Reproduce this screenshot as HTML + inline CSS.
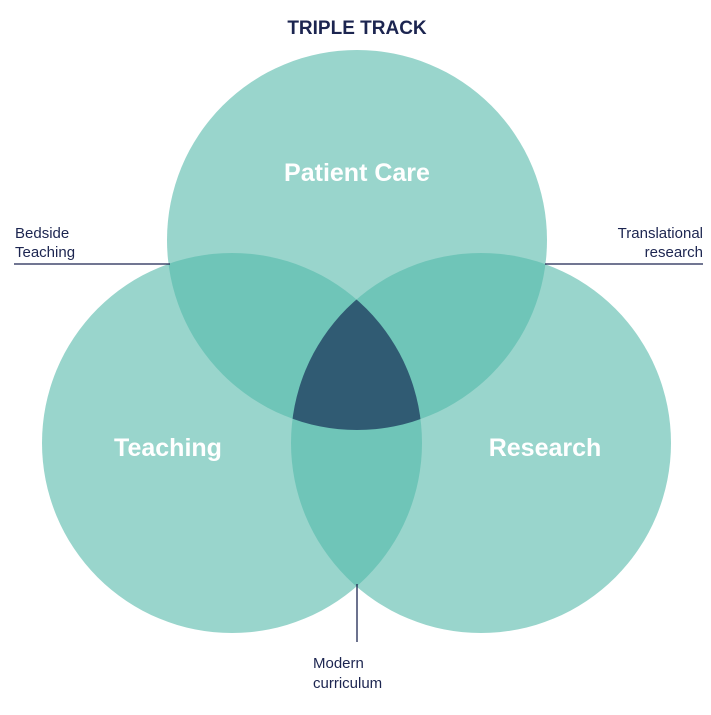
<!DOCTYPE html>
<html><head><style>
html,body{margin:0;padding:0;background:#fff;}
svg{display:block;}
</style></head><body>
<svg width="711" height="715" viewBox="0 0 711 715" xmlns="http://www.w3.org/2000/svg" font-family="Liberation Sans, sans-serif">
<defs>
<clipPath id="cT"><circle cx="357" cy="240" r="190"/></clipPath>
<clipPath id="cL"><circle cx="232" cy="443" r="190"/></clipPath>
<clipPath id="cR"><circle cx="481" cy="443" r="190"/></clipPath>
</defs>
<circle cx="357" cy="240" r="190" fill="#99d5cc"/>
<circle cx="232" cy="443" r="190" fill="#99d5cc"/>
<circle cx="481" cy="443" r="190" fill="#99d5cc"/>
<g clip-path="url(#cT)"><circle cx="232" cy="443" r="190" fill="#6fc5b8"/><circle cx="481" cy="443" r="190" fill="#6fc5b8"/></g>
<g clip-path="url(#cL)"><circle cx="481" cy="443" r="190" fill="#6fc5b8"/></g>
<g clip-path="url(#cT)"><g clip-path="url(#cL)"><circle cx="481" cy="443" r="190" fill="#305b73"/></g></g>
<line x1="14" y1="264" x2="170" y2="264" stroke="#1c2550" stroke-width="1.3"/>
<line x1="545" y1="264" x2="703" y2="264" stroke="#1c2550" stroke-width="1.3"/>
<line x1="357" y1="584" x2="357" y2="642" stroke="#1c2550" stroke-width="1.3"/>
<text x="357" y="34" text-anchor="middle" font-size="19" font-weight="bold" fill="#1c2550">TRIPLE TRACK</text>
<text x="357" y="181" text-anchor="middle" font-size="25" font-weight="bold" fill="#fff">Patient Care</text>
<text x="168" y="456" text-anchor="middle" font-size="25" font-weight="bold" fill="#fff">Teaching</text>
<text x="545" y="456" text-anchor="middle" font-size="25" font-weight="bold" fill="#fff">Research</text>
<g font-size="15" fill="#1c2550">
<text x="15" y="238">Bedside</text>
<text x="15" y="257">Teaching</text>
<text x="703" y="238" text-anchor="end">Translational</text>
<text x="703" y="257" text-anchor="end">research</text>
<text x="313" y="668">Modern</text>
<text x="313" y="688">curriculum</text>
</g>
</svg>
</body></html>
